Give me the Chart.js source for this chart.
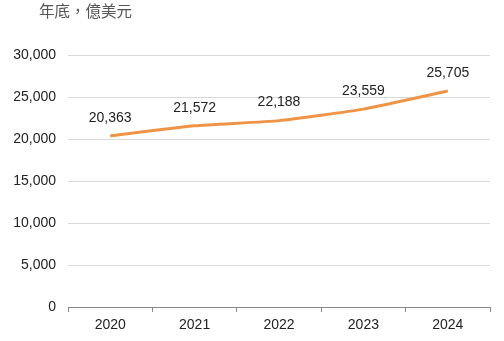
<!DOCTYPE html>
<html><head><meta charset="utf-8">
<script src="https://cdn.jsdelivr.net/npm/chart.js@4/dist/chart.umd.min.js"></script>
<style>html,body{margin:0;padding:0;background:#fff}#wrap{width:504px;height:341px;position:relative}</style>
</head><body><div id="wrap"><canvas id="c" width="504" height="341"></canvas></div>
<script>
const title = '年底，億美元';
const categories = ['2020','2021','2022','2023','2024'];
const values = [20363, 21572, 22188, 23559, 25705];
const yTicks = [0, 5000, 10000, 15000, 20000, 25000, 30000];
const FONT = "'Liberation Sans', Arial, sans-serif";
const fmt = v => v.toString().replace(/\B(?=(\d{3})+(?!\d))/g, ',');

const labelPlugin = {
  id: 'labels',
  afterDatasetsDraw(chart) {
    const ctx = chart.ctx;
    const meta = chart.getDatasetMeta(0);
    ctx.save();
    ctx.font = '14px ' + FONT;
    ctx.fillStyle = '#222';
    ctx.textAlign = 'center';
    ctx.textBaseline = 'middle';
    meta.data.forEach((pt, i) => {
      ctx.fillText(fmt(values[i]), pt.x, pt.y - 18);
    });
    ctx.fillStyle = '#555';
    ctx.textAlign = 'left';
    ctx.font = "15.5px 'Noto Sans CJK TC', sans-serif";
    ctx.fillText(title, 39, 11);
    ctx.restore();
  }
};

new Chart(document.getElementById('c'), {
  type: 'line',
  data: {
    labels: categories,
    datasets: [{
      data: values,
      borderColor: '#EF9447',
      borderWidth: 3,
      pointRadius: 0,
      tension: 0.15,
      fill: false
    }]
  },
  options: {
    responsive: false,
    animation: false,
    layout: { padding: { top: 55, right: 14, bottom: 0, left: 0 } },
    plugins: { legend: { display: false }, tooltip: { enabled: false } },
    scales: {
      x: {
        offset: true,
        grid: { offset: true, drawOnChartArea: false, drawTicks: true, tickLength: 5, color: '#888' },
        border: { color: '#888', width: 1 },
        ticks: { font: { family: FONT, size: 14 }, color: '#222', padding: 5 },
        afterFit(s) { s.height = 34; }
      },
      y: {
        min: 0, max: 30000,
        afterBuildTicks(s) { s.ticks = yTicks.map(v => ({ value: v })); },
        grid: { color: '#d9d9d9', drawTicks: false },
        border: { display: false },
        ticks: { font: { family: FONT, size: 14 }, color: '#222', padding: 12, callback: v => fmt(v) },
        afterFit(s) { s.width = 68; }
      }
    }
  },
  plugins: [labelPlugin]
});
</script></body></html>
